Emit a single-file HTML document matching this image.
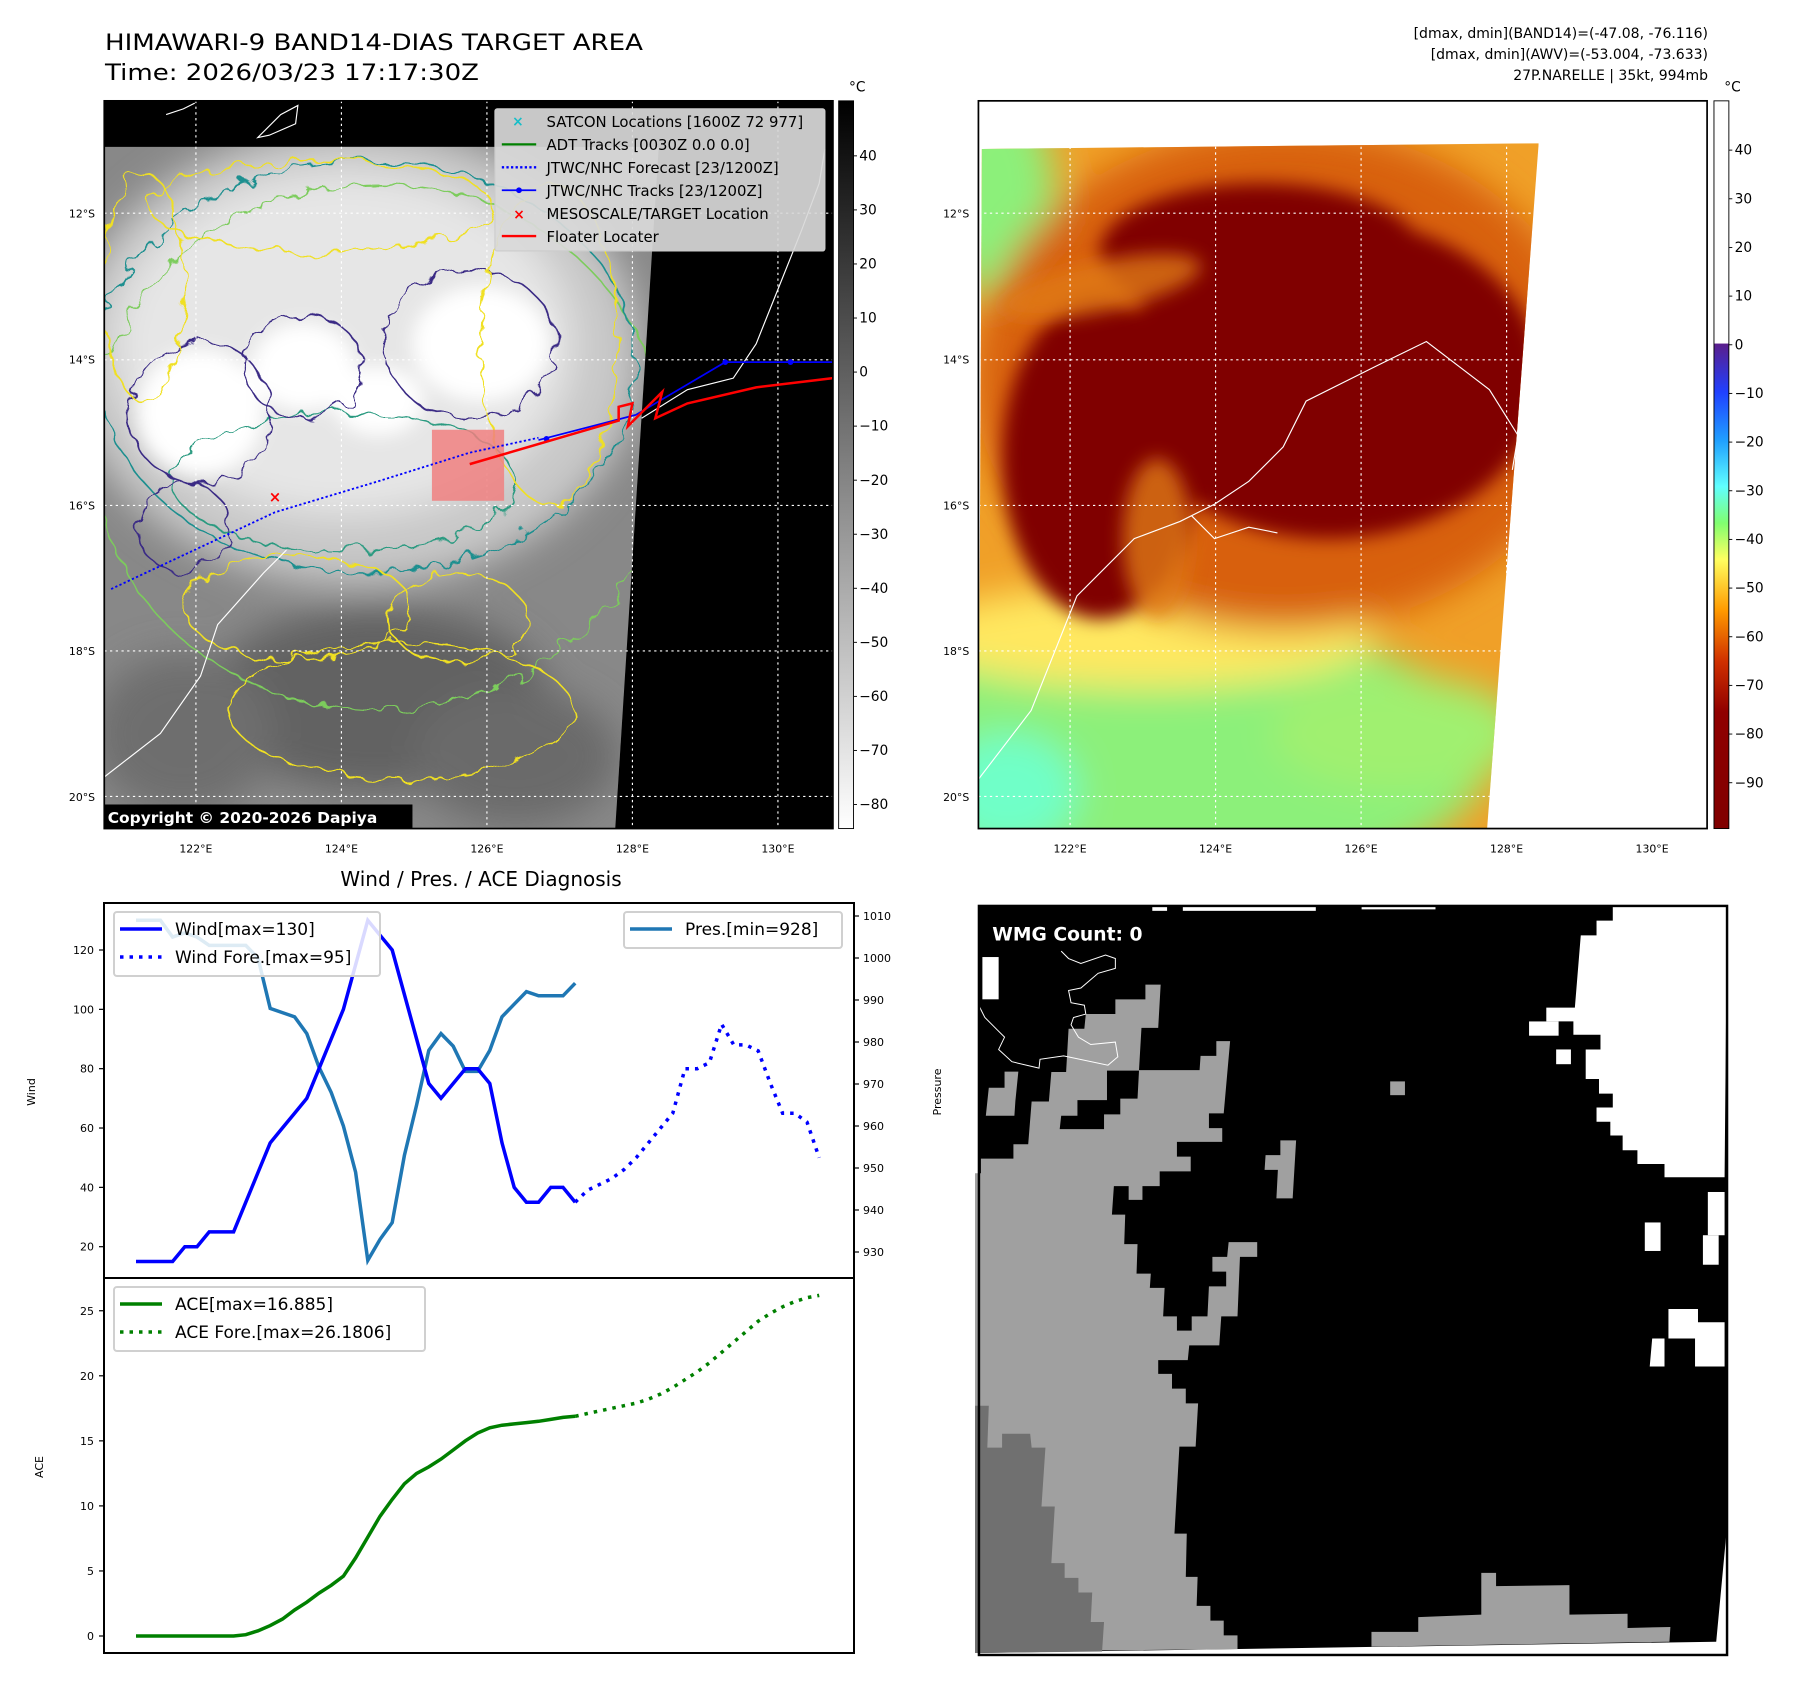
<!DOCTYPE html>
<html><head><meta charset="utf-8"><title>HIMAWARI-9 BAND14 Target Area</title>
<style>
html,body{margin:0;padding:0;background:#fff;}
svg{display:block;font-family:"DejaVu Sans","Liberation Sans",sans-serif;}
</style></head>
<body>
<svg id="fig" width="1797" height="1690" viewBox="0 0 1797 1690" xmlns="http://www.w3.org/2000/svg">
<defs>
  <filter id="blur8" x="-30%" y="-30%" width="160%" height="160%"><feGaussianBlur stdDeviation="8"/></filter>
  <filter id="blur16" x="-30%" y="-30%" width="160%" height="160%"><feGaussianBlur stdDeviation="16"/></filter>
  <filter id="wig" x="-10%" y="-10%" width="120%" height="120%"><feTurbulence type="fractalNoise" baseFrequency="0.06" numOctaves="2" seed="4"/><feDisplacementMap in="SourceGraphic" scale="18"/></filter>
  <clipPath id="img1"><polygon points="91,128 575,128 537,723 91,723"/></clipPath>
  <clipPath id="img2"><polygon points="857,130 1343,125 1298,723 854,723"/></clipPath>
  <linearGradient id="cb1" x1="0" y1="0" x2="0" y2="1"><stop offset="0" stop-color="#000"/><stop offset="1" stop-color="#fff"/></linearGradient>
  <linearGradient id="cb2" x1="0" y1="0" x2="0" y2="1">
    <stop offset="0" stop-color="#fff"/><stop offset="0.333" stop-color="#fff"/>
    <stop offset="0.334" stop-color="#5a1e8c"/><stop offset="0.4" stop-color="#2040ff"/>
    <stop offset="0.467" stop-color="#20a0ff"/><stop offset="0.53" stop-color="#60ffff"/>
    <stop offset="0.58" stop-color="#80ff70"/><stop offset="0.63" stop-color="#ffff60"/>
    <stop offset="0.7" stop-color="#ff9a00"/><stop offset="0.77" stop-color="#d03000"/>
    <stop offset="0.84" stop-color="#900000"/><stop offset="1" stop-color="#800000"/>
  </linearGradient>
</defs>
<text x="105" y="50" font-size="22" textLength="538" lengthAdjust="spacingAndGlyphs">HIMAWARI-9 BAND14-DIAS TARGET AREA</text>
<text x="105" y="80" font-size="22" textLength="374" lengthAdjust="spacingAndGlyphs">Time: 2026/03/23 17:17:30Z</text>
<g font-size="14" text-anchor="end">
<text x="1708" y="38">[dmax, dmin](BAND14)=(-47.08, -76.116)</text>
<text x="1708" y="59">[dmax, dmin](AWV)=(-53.004, -73.633)</text>
<text x="1708" y="80">27P.NARELLE | 35kt, 994mb</text>
</g>

<g transform="scale(1.1457,1.146)">
  <g>
    <rect x="91" y="88" width="636" height="635" fill="#000"/>
    <g clip-path="url(#img1)">
      <rect x="91" y="120" width="490" height="610" fill="#888"/>
      <g filter="url(#blur16)">
        <ellipse cx="310" cy="310" rx="250" ry="200" fill="#c8c8c8"/>
        <ellipse cx="300" cy="300" rx="200" ry="150" fill="#e6e6e6"/>
        <ellipse cx="330" cy="610" rx="150" ry="80" fill="#626262"/>
        <ellipse cx="160" cy="640" rx="80" ry="70" fill="#6e6e6e"/>
        <ellipse cx="450" cy="660" rx="90" ry="60" fill="#6a6a6a"/>
      </g>
      <g filter="url(#blur8)" fill="#fff">
        <ellipse cx="175" cy="360" rx="55" ry="55"/>
        <ellipse cx="265" cy="320" rx="45" ry="38"/>
        <ellipse cx="420" cy="300" rx="60" ry="50"/>
        <ellipse cx="330" cy="350" rx="40" ry="30"/>
      </g>
      <g fill="none" stroke-width="1.4" filter="url(#wig)">
        <ellipse cx="330" cy="390" rx="250" ry="230" stroke="#7ccc5c"/>
        <ellipse cx="320" cy="320" rx="235" ry="180" stroke="#1f8f8f"/>
        <ellipse cx="300" cy="420" rx="150" ry="60" stroke="#2a9a80"/>
        <ellipse cx="175" cy="360" rx="62" ry="62" stroke="#3a2c85"/>
        <ellipse cx="265" cy="320" rx="52" ry="45" stroke="#3a2c85"/>
        <ellipse cx="410" cy="300" rx="75" ry="65" stroke="#3a2c85"/>
        <ellipse cx="160" cy="460" rx="40" ry="40" stroke="#3a2c85"/>
        <ellipse cx="350" cy="620" rx="150" ry="60" stroke="#f0e020"/>
        <ellipse cx="125" cy="250" rx="35" ry="100" stroke="#f0e020"/>
        <ellipse cx="480" cy="300" rx="60" ry="140" stroke="#f0e020"/>
        <ellipse cx="260" cy="530" rx="100" ry="45" stroke="#f0e020"/>
        <ellipse cx="400" cy="540" rx="60" ry="40" stroke="#f0e020"/>
        <ellipse cx="280" cy="180" rx="150" ry="40" stroke="#f0e020"/>
      </g>
    </g>
    <g fill="none" stroke="#fff" stroke-width="1">
      <path d="M91,678 L140,640 L175,590 L190,545 L230,500 L250,480"/>
      <path d="M560,365 L600,340 L640,330 L660,300 L680,250 L700,200 L715,160 L720,130"/>
      <path d="M225,120 L245,100 L260,92 L258,108 L235,118 Z"/>
      <path d="M145,100 L160,95 L170,90"/>
    </g>
    <g stroke="#fff" stroke-width="1" stroke-dasharray="2,3">
      <line x1="171" y1="88" x2="171" y2="723"/><line x1="298" y1="88" x2="298" y2="723"/><line x1="425" y1="88" x2="425" y2="723"/><line x1="552" y1="88" x2="552" y2="723"/><line x1="679" y1="88" x2="679" y2="723"/>
      <line x1="91" y1="186" x2="727" y2="186"/><line x1="91" y1="314" x2="727" y2="314"/><line x1="91" y1="441" x2="727" y2="441"/><line x1="91" y1="568" x2="727" y2="568"/><line x1="91" y1="695" x2="727" y2="695"/>
    </g>
    <rect x="377" y="375" width="63" height="62" fill="#f08080" opacity="0.85"/>
    <polyline points="97,514 240,447 330,420 410,395 470,382" fill="none" stroke="#0000ff" stroke-width="1.6" stroke-dasharray="2,2"/>
    <polyline points="470,384 555,362 633,316 727,316" fill="none" stroke="#0000ff" stroke-width="1.5"/>
    <circle cx="633" cy="316" r="2.5" fill="#0000ff"/><circle cx="690" cy="316" r="2.5" fill="#0000ff"/><circle cx="477" cy="383" r="2.5" fill="#0000ff"/>
    <polyline points="410,405 540,367 540,355 552,352 548,372 578,342 572,365 600,352 660,338 727,330" fill="none" stroke="#ff0000" stroke-width="2.2"/>
    <text x="240" y="438" font-size="13" fill="#ff0000" text-anchor="middle" font-weight="bold">×</text>
    <g font-size="13">
      <rect x="432" y="95" width="288" height="124" fill="#d9d9d9" fill-opacity="0.92" stroke="#ccc" rx="2"/>
      <text x="452" y="110" fill="#17bec8" font-weight="bold" text-anchor="middle" font-size="12">×</text>
      <text x="477" y="111">SATCON Locations [1600Z 72 977]</text>
      <line x1="438" y1="126" x2="468" y2="126" stroke="#008000" stroke-width="2"/>
      <text x="477" y="131">ADT Tracks [0030Z 0.0 0.0]</text>
      <line x1="438" y1="146" x2="468" y2="146" stroke="#0000ff" stroke-width="2" stroke-dasharray="2,2"/>
      <text x="477" y="151">JTWC/NHC Forecast [23/1200Z]</text>
      <line x1="438" y1="166" x2="468" y2="166" stroke="#0000ff" stroke-width="1.5"/><circle cx="453" cy="166" r="2.5" fill="#0000ff"/>
      <text x="477" y="171">JTWC/NHC Tracks [23/1200Z]</text>
      <text x="453" y="191" fill="#ff0000" font-weight="bold" text-anchor="middle" font-size="12">×</text>
      <text x="477" y="191">MESOSCALE/TARGET Location</text>
      <line x1="438" y1="206" x2="468" y2="206" stroke="#ff0000" stroke-width="2"/>
      <text x="477" y="211">Floater Locater</text>
    </g>
    <rect x="91" y="702" width="269" height="21" fill="#000"/>
    <text x="94" y="718" fill="#fff" font-size="13.5" font-weight="bold">Copyright © 2020-2026 Dapiya</text>
    <rect x="91" y="88" width="636" height="635" fill="none" stroke="#000" stroke-width="1.5"/>
  </g>
  <g>
    <rect x="732" y="88" width="13" height="635" fill="url(#cb1)" stroke="#000" stroke-width="0.8"/>
    <text x="741" y="80" font-size="12">°C</text>
    <g font-size="12" id="cb1ticks"></g>
  </g>
  <g>
    <rect x="854" y="88" width="636" height="635" fill="#fff"/>
    <g clip-path="url(#img2)">
      <rect x="850" y="120" width="500" height="610" fill="#f0a028"/>
      <g filter="url(#blur16)">
        <ellipse cx="1010" cy="660" rx="290" ry="120" fill="#8cf07a"/>
        <ellipse cx="1220" cy="640" rx="110" ry="50" fill="#a0f070"/>
        <ellipse cx="870" cy="170" rx="50" ry="90" fill="#8cf07a"/>
        <ellipse cx="880" cy="690" rx="60" ry="50" fill="#70ffc8"/>
        <ellipse cx="1000" cy="555" rx="200" ry="45" fill="#ffe860"/>
        <ellipse cx="1120" cy="330" rx="270" ry="220" fill="#d86010"/>
      </g>
      <g filter="url(#blur8)" fill="#800000">
        <ellipse cx="1160" cy="330" rx="185" ry="140"/>
        <ellipse cx="960" cy="400" rx="85" ry="140"/>
        <ellipse cx="1100" cy="220" rx="140" ry="60"/>
        <ellipse cx="1250" cy="340" rx="75" ry="100"/>
      </g>
      <g filter="url(#blur8)" fill="#e07a18" opacity="0.8">
        <ellipse cx="960" cy="250" rx="90" ry="22" transform="rotate(-12 960 250)"/>
        <ellipse cx="1010" cy="470" rx="30" ry="70"/>
      </g>
    </g>
    <g fill="none" stroke="#fff" stroke-width="1">
      <path d="M854,680 L900,620 L940,520 L990,470 L1030,455 L1060,440 L1090,420 L1120,390 L1140,350 L1200,320 L1245,298 L1300,340 L1325,380 L1320,410"/>
      <path d="M1040,450 L1060,470 L1090,460 L1115,465"/>
    </g>
    <g stroke="#fff" stroke-width="1" stroke-dasharray="2,3">
      <line x1="934" y1="88" x2="934" y2="723"/><line x1="1061" y1="88" x2="1061" y2="723"/><line x1="1188" y1="88" x2="1188" y2="723"/><line x1="1315" y1="88" x2="1315" y2="723"/><line x1="1442" y1="88" x2="1442" y2="723"/>
      <line x1="854" y1="186" x2="1490" y2="186"/><line x1="854" y1="314" x2="1490" y2="314"/><line x1="854" y1="441" x2="1490" y2="441"/><line x1="854" y1="568" x2="1490" y2="568"/><line x1="854" y1="695" x2="1490" y2="695"/>
    </g>
    <rect x="854" y="88" width="636" height="635" fill="none" stroke="#000" stroke-width="1.5"/>
  </g>
  <g>
    <rect x="1496" y="88" width="13" height="635" fill="url(#cb2)" stroke="#000" stroke-width="0.8"/>
    <text x="1505" y="80" font-size="12">°C</text>
    <g font-size="12" id="cb2ticks"></g>
  </g>
  <g id="mapticks" font-size="9.5"></g>
</g>

<g transform="translate(975,902) scale(0.4925,0.4915)">
  <rect x="8" y="8" width="1519" height="1524" fill="#000"/>
  <g fill="#fff">
    <rect x="360" y="10" width="30" height="8"/><rect x="422" y="10" width="270" height="8"/><rect x="785" y="10" width="150" height="5"/>
    <polygon points="1295,10 1527,10 1522,560 1400,560 1400,533 1345,533 1345,505 1315,505 1315,475 1290,475 1290,447 1262,447 1262,418 1295,418 1295,390 1267,390 1267,360 1240,360 1240,300 1270,300 1270,270 1215,270 1215,243 1160,243 1160,215 1218,215 1230,68 1262,68 1262,38 1295,38"/>
    <rect x="1125" y="243" width="60" height="29"/><rect x="1180" y="300" width="30" height="30"/>
    <rect x="15" y="112" width="33" height="86"/>
    <rect x="1488" y="590" width="34" height="88"/><rect x="1360" y="652" width="32" height="58"/><rect x="1478" y="678" width="32" height="60"/>
    <polygon points="1408,828 1468,828 1468,888 1400,888 1400,945 1370,945 1375,888 1408,888"/>
    <polygon points="1462,855 1522,855 1522,945 1462,945"/>
    <polygon points="0,1528 1505,1505 1527,1270 1527,1532 0,1532"/>
  </g>
  <g fill="#a0a0a0">
    <polygon points="0,552 12,552 12,522 78,522 78,493 108,493 115,406 150,406 155,346 185,346 190,258 222,258 225,228 285,228 285,198 346,198 346,168 377,168 372,256 338,256 333,342 456,342 458,313 490,313 490,283 518,283 505,430 475,430 475,460 502,460 502,488 410,488 410,518 438,518 438,548 375,548 375,578 340,578 340,606 312,606 312,578 282,578 278,636 305,636 303,696 330,696 328,756 357,756 355,785 385,785 382,843 410,843 410,872 440,872 440,843 472,843 475,782 510,782 510,752 482,752 482,722 512,722 515,692 573,692 573,722 538,722 533,843 500,843 496,902 435,902 432,932 372,932 372,960 400,960 400,990 428,990 428,1020 453,1020 448,1108 415,1108 405,1285 430,1285 428,1373 452,1373 450,1432 478,1432 478,1462 505,1462 505,1492 533,1492 533,1520 0,1525"/>
    <polygon points="60,345 88,345 82,405 80,435 22,435 28,378 60,378"/>
    <rect x="843" y="365" width="30" height="28"/>
    <polygon points="620,485 652,485 645,603 612,603 615,545 588,545 590,515 620,515"/>
    <polygon points="805,1485 900,1485 900,1455 1028,1450 1028,1365 1058,1365 1058,1392 1207,1390 1207,1450 1325,1448 1325,1477 1412,1475 1410,1505 805,1515"/>
  </g>
  <polygon fill="#000" points="268,343 333,343 330,400 295,400 295,432 262,432 262,462 172,462 175,435 208,435 208,403 268,403"/>
  <polygon fill="#707070" points="0,1025 28,1025 25,1110 55,1110 55,1082 112,1082 115,1110 143,1110 135,1230 162,1230 155,1345 182,1345 182,1375 210,1375 210,1405 238,1405 235,1465 262,1465 258,1525 0,1528"/>
  <polyline fill="none" stroke="#fff" stroke-width="2" points="5,205 20,235 45,260 60,275 48,300 75,325 130,338 132,320 180,313 270,332 290,315 285,285 235,290 210,275 195,250 200,235 225,228 222,210 195,205 190,180 215,175 250,145 285,135 285,115 265,108 215,125 190,115 175,100"/>
  <text x="35" y="78" font-size="38" font-weight="bold" fill="#fff">WMG Count: 0</text>
  <rect x="8" y="8" width="1519" height="1524" fill="none" stroke="#000" stroke-width="5"/>
</g>

<text x="481" y="886" font-size="20" text-anchor="middle">Wind / Pres. / ACE Diagnosis</text>
<g id="chart"></g>

<script>
const windIdx = [0,1,2,3,4,5,6,7,8,9,10,11,12,13,14,15,16,17,18,19,20,21,22,23,24,25,26,27,28,29,30,31,32,33,34,35,36];
const windVals = [15,15,15,15,20,20,25,25,25,35,45,55,60,65,70,80,90,100,115,130,125,120,105,90,75,70,75,80,80,75,55,40,35,35,40,40,35];
const foreIdx = [36,37,38,39,40,41,42,43,44,45,46,47,48,49,50,51,52,53,54,55,56];
const foreWind = [35,39,41,43,46,50,55,60,65,80,80,82,95,88,88,86,75,65,65,62,50];
const presVals = [1009,1009,1009,1005,1006,1005,1003,1003,1003,1003,1000,988,987,986,982,974,968,960,949,928,933,937,953,965,978,982,979,973,973,978,986,989,992,991,991,991,994];
const aceVals = [0,0,0,0,0,0,0,0,0,0.1,0.4,0.8,1.3,2.0,2.6,3.3,3.9,4.6,6.0,7.6,9.2,10.5,11.7,12.5,13.0,13.6,14.3,15.0,15.6,16.0,16.2,16.3,16.4,16.5,16.65,16.8,16.885];
const foreAce = [16.885,17.1,17.3,17.5,17.7,17.9,18.2,18.6,19.1,19.7,20.3,21.0,21.8,22.6,23.4,24.2,24.8,25.3,25.7,26.0,26.18];
const windTicks = [20,40,60,80,100,120];
const presTicks = [930,940,950,960,970,980,990,1000,1010];
const aceTicks = [0,5,10,15,20,25];
const cb1Ticks = [40,30,20,10,0,-10,-20,-30,-40,-50,-60,-70,-80];
const cb2Ticks = [40,30,20,10,0,-10,-20,-30,-40,-50,-60,-70,-80,-90];
const latTicks = [12,14,16,18,20];
const lonTicks = [122,124,126,128,130];

const NS='http://www.w3.org/2000/svg';
function mk(tag, attrs, parent, text){
  const e=document.createElementNS(NS,tag);
  for(const k in attrs) e.setAttribute(k,attrs[k]);
  if(text!==undefined) e.textContent=text;
  parent.appendChild(e); return e;
}
const X = i => 136 + i*12.2;
const Yw = v => 950 + (120-v)*2.967;
const Yp = p => 916 + (1010-p)*4.2;
const Ya = a => 1636 - a*13.01;
const L=104, R=854, T1=903, B1=1278, T2=1278, B2=1653;
const chart=document.getElementById('chart');
function pts(xs, ys, fy){ return xs.map((x,k)=>X(x).toFixed(1)+','+fy(ys[k]).toFixed(1)).join(' '); }

const presLine=mk('polyline',{points:pts(windIdx,presVals,Yp),fill:'none',stroke:'#1f77b4','stroke-width':3.5},chart);


const wl=mk('polyline',{points:pts(windIdx,windVals,Yw),fill:'none',stroke:'#0000ff','stroke-width':3.5},chart);


const wf=mk('polyline',{points:pts(foreIdx,foreWind,Yw),fill:'none',stroke:'#0000ff','stroke-width':3.5,'stroke-dasharray':'3.5,6'},chart);


const al=mk('polyline',{points:pts(windIdx,aceVals,Ya),fill:'none',stroke:'#008000','stroke-width':3.5},chart);


const af=mk('polyline',{points:pts(foreIdx,foreAce,Ya),fill:'none',stroke:'#008000','stroke-width':3.5,'stroke-dasharray':'3.5,6'},chart);



const f1=mk('rect',{x:L,y:T1,width:R-L,height:B1-T1,fill:'none',stroke:'#000','stroke-width':2},chart);


const f2=mk('rect',{x:L,y:T2,width:R-L,height:B2-T2,fill:'none',stroke:'#000','stroke-width':2},chart);



windTicks.forEach(v=>{
  mk('line',{x1:L-5,x2:L,y1:Yw(v),y2:Yw(v),stroke:'#000','stroke-width':1.2},chart);
  const t=mk('text',{x:L-10,y:Yw(v)+4,'font-size':11,'text-anchor':'end'},chart,String(v));
  
  
});
presTicks.forEach(p=>{
  mk('line',{x1:R,x2:R+5,y1:Yp(p),y2:Yp(p),stroke:'#000','stroke-width':1.2},chart);
  const t=mk('text',{x:R+9,y:Yp(p)+4,'font-size':11},chart,String(p));
  
  
});
aceTicks.forEach(a=>{
  mk('line',{x1:L-5,x2:L,y1:Ya(a),y2:Ya(a),stroke:'#000','stroke-width':1.2},chart);
  const t=mk('text',{x:L-10,y:Ya(a)+4,'font-size':11,'text-anchor':'end'},chart,String(a));
  
  
});
const yl1=mk('text',{x:0,y:0,'font-size':11,'text-anchor':'middle',transform:'translate(35,1092) rotate(-90)'},chart,'Wind');


const yl2=mk('text',{x:0,y:0,'font-size':11,'text-anchor':'middle',transform:'translate(941,1092) rotate(-90)'},chart,'Pressure');


const yl3=mk('text',{x:0,y:0,'font-size':11,'text-anchor':'middle',transform:'translate(43,1467) rotate(-90)'},chart,'ACE');



function legend(name,x,y,w,h,items){
  const g=mk('g',{},chart);
  
  
  mk('rect',{x:x,y:y,width:w,height:h,fill:'#fff','fill-opacity':0.85,stroke:'#d0d0d0','stroke-width':2,rx:3},g);
  items.forEach((it,k)=>{
    const yy=y+17+k*28;
    mk('line',{x1:x+6,x2:x+48,y1:yy,y2:yy,stroke:it.c,'stroke-width':3.5,'stroke-dasharray':it.d||'none'},g);
    mk('text',{x:x+61,y:yy+6,'font-size':17},g,it.t);
  });
}
legend('wind-legend',114,912,266,64,[{c:'#0000ff',t:'Wind[max=130]'},{c:'#0000ff',t:'Wind Fore.[max=95]',d:'3.5,6'}]);
legend('pressure-legend',624,912,218,36,[{c:'#1f77b4',t:'Pres.[min=928]'}]);
legend('ace-legend',114,1287,311,64,[{c:'#008000',t:'ACE[max=16.885]'},{c:'#008000',t:'ACE Fore.[max=26.1806]',d:'3.5,6'}]);

const cb1g=document.getElementById('cb1ticks');
cb1Ticks.forEach(v=>{
  const y=136+(40-v)*(702-136)/120;
  mk('line',{x1:745,x2:748,y1:y,y2:y,stroke:'#000','stroke-width':0.8},cb1g);
  const t=mk('text',{x:750,y:y+4},cb1g,v<0?'\u2212'+(-v):String(v));
  
  
});
const cb2g=document.getElementById('cb2ticks');
cb2Ticks.forEach(v=>{
  const y=131+(40-v)*(683-131)/130;
  mk('line',{x1:1509,x2:1512,y1:y,y2:y,stroke:'#000','stroke-width':0.8},cb2g);
  const t=mk('text',{x:1514,y:y+4},cb2g,v<0?'\u2212'+(-v):String(v));
  
  
});
const mt=document.getElementById('mapticks');
latTicks.forEach((lat,k)=>{
  const y=186+k*127.25;
  [83,846].forEach(x=>{
    const t=mk('text',{x:x,y:y+4,'text-anchor':'end'},mt,lat+'°S');
    
    
  });
});
lonTicks.forEach((lon,k)=>{
  const x=171+k*127;
  [0,763].forEach(o=>{
    const t=mk('text',{x:x+o,y:744,'text-anchor':'middle'},mt,lon+'°E');
    
    
  });
});
</script>
</body></html>
